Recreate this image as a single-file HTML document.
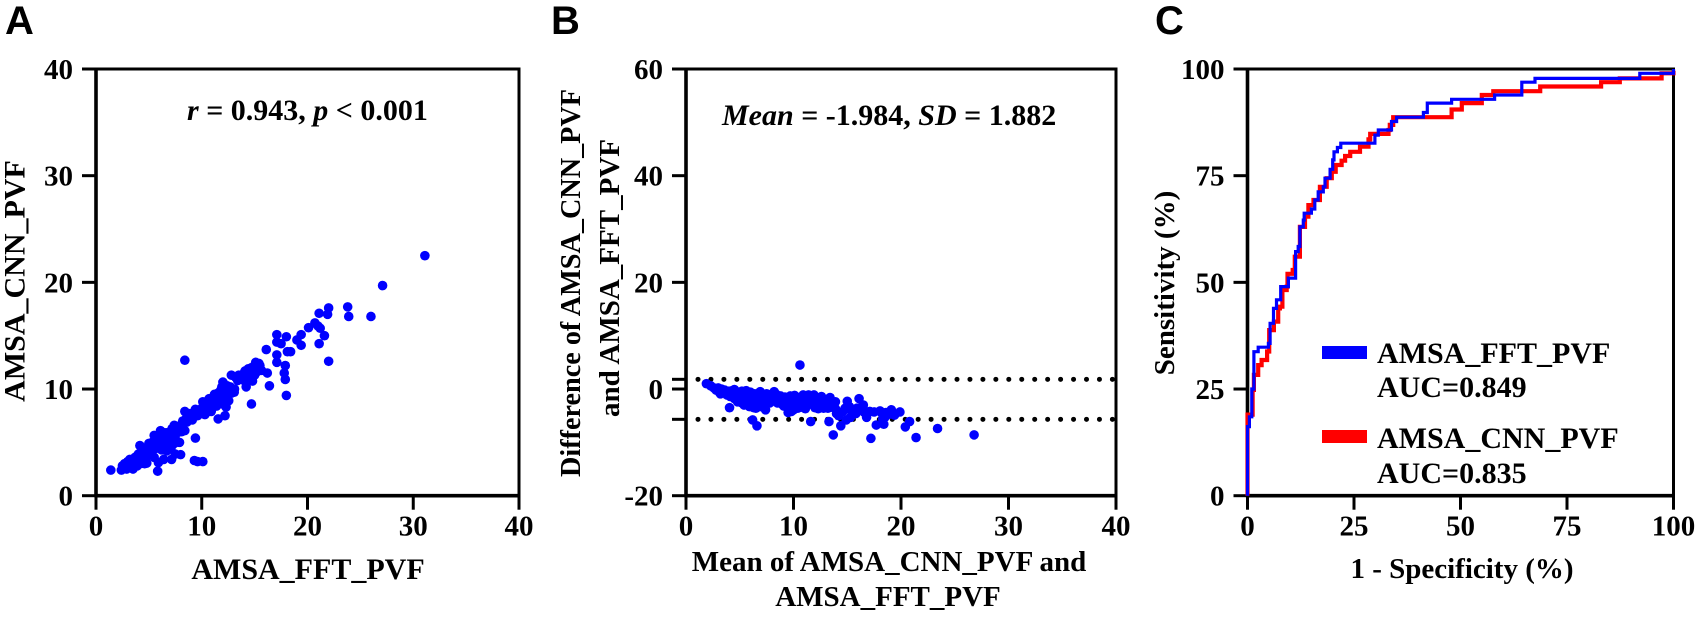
<!DOCTYPE html>
<html>
<head>
<meta charset="utf-8">
<title>AMSA PVF comparison</title>
<style>
html,body{margin:0;padding:0;background:#fff;width:1699px;height:617px;overflow:hidden}
svg{display:block}
text{font-family:"Liberation Serif",serif;font-weight:bold;fill:#000;font-size:29px}
.big{font-size:30px}
.panel{font-family:"Liberation Sans",sans-serif;font-size:40px}
</style>
</head>
<body>
<svg id="fig" width="1699" height="617" viewBox="0 0 1699 617" xmlns="http://www.w3.org/2000/svg">
<text class="panel" x="5" y="34">A</text>
<text class="panel" x="551" y="34">B</text>
<text class="panel" x="1155" y="34">C</text>

<text class="big" x="187" y="120"><tspan font-style="italic">r</tspan> = 0.943, <tspan font-style="italic">p</tspan> &lt; 0.001</text>
<text class="big" x="308" y="579" text-anchor="middle">AMSA_FFT_PVF</text>
<text class="big" transform="translate(24.5,281) rotate(-90)" text-anchor="middle">AMSA_CNN_PVF</text>

<text class="big" x="722" y="125"><tspan font-style="italic">Mean</tspan> = -1.984, <tspan font-style="italic">SD</tspan> = 1.882</text>
<text x="889" y="571" text-anchor="middle">Mean of AMSA_CNN_PVF and</text>
<text x="888" y="606" text-anchor="middle">AMSA_FFT_PVF</text>
<text transform="translate(580,477) rotate(-90)" textLength="388" lengthAdjust="spacingAndGlyphs">Difference of AMSA_CNN_PVF</text>
<text transform="translate(619,417) rotate(-90)">and AMSA_FFT_PVF</text>

<text x="1462" y="578" text-anchor="middle">1 - Specificity (%)</text>
<text transform="translate(1174,283) rotate(-90)" text-anchor="middle">Sensitivity (%)</text>

<g id="gA"></g>
<g id="gB"></g>
<g id="gC"></g>

<rect x="1322" y="346" width="45" height="13" fill="#0000ff"/>
<text class="big" x="1377" y="363">AMSA_FFT_PVF</text>
<text class="big" x="1377" y="397">AUC=0.849</text>
<rect x="1322" y="430" width="45" height="13" fill="#ff0000"/>
<text class="big" x="1377" y="448">AMSA_CNN_PVF</text>
<text class="big" x="1377" y="483">AUC=0.835</text>
</svg>
<script>
const ticksA = [0, 10, 20, 30, 40];
const xTicksB = [0, 10, 20, 30, 40];
const yTicksB = [-20, 0, 20, 40, 60];
const ticksC = [0, 25, 50, 75, 100];
const limitsB = [1.82, -5.68];

const scatterA = [
[1.4,2.4],[2.4,2.4],[2.5,2.8],[2.7,3.0],[2.9,2.5],[3.0,3.2],[3.1,2.7],[3.2,3.4],[3.4,2.9],[3.5,2.5],
[3.6,3.1],[3.7,3.6],[3.8,3.3],[3.9,2.8],[4.0,3.9],[4.1,3.4],[4.2,3.0],[4.3,4.0],[4.4,3.6],[4.5,3.2],
[4.15,4.7],[4.6,4.1],[4.7,3.5],[4.8,4.5],[4.9,3.9],[4.8,3.05],[5.1,4.6],[5.2,4.1],[5.3,5.0],[5.4,4.4],
[5.5,3.6],[5.6,5.2],[5.7,4.7],[5.83,2.3],[5.9,3.1],[5.5,5.65],[6.0,5.5],[6.1,4.9],[6.2,4.3],[6.1,6.1],
[6.4,5.4],[6.5,4.8],[6.4,3.4],[6.7,5.9],[6.8,5.2],[6.9,4.5],[7.15,3.4],[7.2,6.3],[7.3,5.6],[7.4,4.9],
[7.5,3.9],[7.4,6.6],[7.7,5.9],[7.9,5.0],[8.0,3.85],[8.1,6.0],[8.2,6.6],[8.4,6.1],[8.5,7.2],[8.4,7.9],
[8.7,7.5],[8.9,7.7],[9.1,7.1],[9.4,5.4],[9.3,3.3],[10.1,3.2],[9.6,3.2],[9.4,8.1],[9.6,7.5],[9.8,7.8],
[10.0,8.2],[10.1,8.8],[10.3,7.6],[10.5,8.3],[10.7,9.1],[10.9,7.9],[11.0,8.6],[11.2,9.5],[11.4,8.4],[11.55,7.2],
[11.6,9.0],[11.8,9.9],[12.0,8.6],[12.2,7.5],[12.3,9.2],[12.4,10.3],[12.0,10.65],[12.8,9.6],[12.55,8.9],[13.1,10.0],
[13.07,9.7],[12.8,11.3],[13.7,11.2],[14.0,10.8],[14.2,10.2],[14.4,11.9],[14.6,11.0],[14.7,8.6],[14.9,12.0],[14.8,10.75],
[15.2,11.6],[15.4,12.4],[15.1,12.5],[15.5,12.2],[15.65,11.75],[16.2,11.5],[16.4,10.3],[16.1,13.7],[17.1,15.1],[17.5,14.25],
[17.1,14.4],[17.1,13.2],[17.1,12.5],[17.9,12.2],[17.8,11.5],[17.9,10.9],[18.0,9.4],[18.0,14.9],[18.4,13.5],[18.1,13.5],
[19.0,14.6],[19.4,15.1],[19.4,14.1],[20.1,15.75],[20.7,16.2],[21.2,15.7],[21.0,15.9],[21.6,15.0],[21.1,14.25],[21.1,17.1],
[21.9,17.0],[22.0,17.6],[22.0,12.6],[23.8,17.7],[23.9,16.8],[26.0,16.8],[27.1,19.7],[31.1,22.5],[8.4,12.7],
[3.0,2.9],[3.3,3.1],[4.0,3.5],[4.4,4.1],[4.9,4.4],[5.0,4.9],[5.4,4.9],[5.8,5.0],[6.0,5.1],[6.3,5.7],
[6.6,5.5],[7.0,5.9],[7.1,6.1],[7.6,6.2],[8.0,6.3],[8.8,7.1],[9.2,7.5],[10.4,8.7],[10.9,8.9],[11.3,9.1],
[11.9,9.5],[12.1,9.9],[13.4,10.8],[14.0,11.5],[14.5,11.6],[15.0,11.3],[6.7,4.2],[7.1,4.5],[7.5,5.3],[4.6,3.0],
[3.3,2.6],[3.6,3.5],[4.1,3.8],[4.6,3.6],[5.0,4.2],[5.3,4.6],[5.6,4.4],[5.9,5.6],[6.2,5.8],[6.5,5.9],
[6.9,5.6],[7.3,5.1],[7.7,6.5],[8.2,7.0],[8.6,6.9],[9.0,7.4],[9.5,7.9],[10.0,7.7],[10.2,8.4],[10.7,8.0],
[11.1,9.1],[11.5,9.6],[11.9,10.2],[12.3,8.3],[12.7,10.2],[13.2,11.1],[13.5,11.3],[14.1,11.7],[14.7,12.0],[15.0,12.2]
];

const scatterB = [
[10.6,4.5],[1.9,1.0],[15.0,-2.3],[16.1,-1.8],[16.5,-3.0],[7.4,-3.9],[4.05,-3.5],[6.2,-5.8],[6.6,-6.9],[11.6,-6.1],
[13.3,-6.1],[13.7,-8.6],[14.4,-6.9],[14.9,-5.8],[15.3,-5.3],[17.2,-9.25],[17.7,-6.75],[18.4,-6.6],[18.5,-5.3],[19.1,-3.9],
[19.9,-4.3],[19.4,-4.9],[20.8,-6.1],[20.4,-7.1],[21.4,-9.1],[23.4,-7.4],[26.8,-8.6],[16.8,-5.3],[17.1,-4.2],[18.05,-4.1],
[15.9,-3.6],[14.6,-4.2],[14.0,-4.6],[15.5,-4.8],[16.0,-4.0],[18.2,-4.5],[18.6,-4.4],[18.3,-5.6],
[2.3,0.6],[2.6,0.2],[2.8,-0.2],[3.0,0.2],[3.1,-0.6],[3.3,0.0],[3.5,-0.7],[3.6,-0.2],[3.8,-1.1],[4.0,-0.4],
[4.1,-1.4],[4.3,-0.3],[4.5,-0.1],[4.5,-1.8],[4.6,-0.9],[4.8,-2.4],[4.9,-0.6],[5.0,-1.4],[5.2,-0.4],[5.3,-2.0],
[5.4,-3.0],[5.5,-1.1],[5.6,-0.3],[5.7,-2.4],[5.8,-1.6],[5.9,-3.3],[6.0,-0.6],[6.1,-1.2],[6.2,-2.0],[6.3,-3.5],
[6.4,-0.9],[6.5,-2.6],[6.6,-1.5],[6.7,-3.0],[6.9,-0.5],[7.0,-2.0],[7.1,-1.1],[7.3,-2.7],[7.5,-0.9],[7.7,-1.8],
[8.0,-1.3],[8.2,-0.5],[8.4,-1.0],[8.6,-1.8],[8.8,-1.3],[9.0,-2.1],[9.2,-1.5],[9.4,-2.6],[9.5,-4.4],[9.7,-1.3],
[9.9,-2.3],[10.0,-3.9],[10.1,-1.2],[10.3,-2.8],[10.5,-1.6],[10.7,-3.4],[10.9,-1.1],[11.0,-2.2],[11.2,-3.2],[11.4,-1.1],
[11.6,-2.0],[11.9,-1.1],[12.0,-3.5],[12.2,-2.0],[12.4,-3.0],[12.6,-1.4],[12.8,-3.6],[13.0,-2.0],[13.2,-3.6],[13.4,-1.6],
[13.6,-2.7],[13.9,-2.4],[13.9,-3.7],[3.2,-0.9],[4.2,-1.0],[4.7,-1.6],[5.1,-2.5],[5.6,-2.0],[6.0,-2.6],[6.8,-2.4],
[7.2,-1.6],[8.3,-1.5],[9.3,-1.8],[10.2,-2.0],[10.8,-2.6],[11.5,-2.8],[12.5,-2.4],[13.1,-2.6],
[7.8,-2.6],[8.1,-2.2],[8.5,-2.6],[8.9,-2.8],[9.1,-3.2],[9.6,-3.4],[9.8,-4.2],[10.4,-3.6],[11.1,-3.7],[11.8,-2.6],
[12.3,-3.7],[12.7,-2.8],[13.5,-3.4],[5.0,-2.0],[5.5,-2.8],[6.1,-3.0],[6.5,-3.6],[6.9,-3.3],[7.0,-1.4],[7.6,-1.3],
[14.8,-3.6],[15.2,-3.3],[15.4,-4.2],[15.8,-4.6],[16.3,-3.4],[16.6,-4.4],[17.5,-4.3],[14.2,-5.0],[19.0,-4.7],[7.4,-2.2]
];

const rocFft = [
[0,0],[0,16.2],[0.45,16.2],[0.45,18.5],[1,18.5],[1,25],[1.5,25],[1.5,33.75],[2.5,33.75],[2.5,34.8],[4.9,34.8],[4.9,35.7],[5.3,40.4],[6.1,43.9],[6.8,45.9],[7.8,45.9],[7.8,49],[9.3,49],[9.6,51],[11.3,51],[11.3,57.2],[11.9,58.4],[12.3,63],[13.1,64.6],[13.3,66.2],[15,67.2],[15.8,69.3],[16.6,71.2],[17.8,72.4],[18.2,74.4],[19.4,74.4],[19.4,76.5],[20,78.7],[20.3,80.6],[21.1,81.6],[21.9,82.6],[29.9,82.6],[29.9,84.5],[30.7,85.7],[33.8,85.7],[33.8,87.7],[35,88.7],[40.9,88.7],[41.3,89.8],[42.2,92],[47.9,92],[47.9,92.9],[58,92.9],[58,93.9],[63.6,93.9],[64.4,96.9],[67.5,96.9],[67.5,97.8],[92.1,97.8],[92.1,99],[100,99],[100,100]
];
const rocCnn = [
[0,0],[0,19],[0.7,19],[1.2,24.8],[1.5,28.3],[2.5,30.6],[3.3,31.8],[4.6,33.8],[5.1,38.8],[6.2,40.8],[7.2,43.9],[7.6,44.3],[8.2,48.2],[9.2,49],[9.4,52],[10.6,52.9],[11.1,56],[12.3,58.4],[12.3,63],[13.5,65.4],[14.3,68.1],[15.5,69.3],[17,72.4],[18.6,74.4],[19.8,75.9],[20.7,77.5],[22.1,78.5],[22.9,79.6],[24.1,80.6],[26.4,81.8],[28.4,83.5],[28.8,84.8],[33.1,85.7],[33.4,86.9],[34.2,88.7],[47.9,88.7],[47.9,90.5],[50.3,90.5],[50.3,92],[55,92.9],[55,93.9],[57.7,93.9],[57.7,94.8],[68.7,94.8],[68.7,95.9],[83,95.9],[83,96.9],[87.4,96.9],[87.4,97.8],[97.2,97.8],[97.2,99],[100,99.6]
];

const NS = 'http://www.w3.org/2000/svg';
function el(parent, tag, attrs) {
  const e = document.createElementNS(NS, tag);
  for (const k in attrs) e.setAttribute(k, attrs[k]);
  parent.appendChild(e);
  return e;
}
function linScale(d0, d1, p0, p1) { return v => p0 + (v - d0) * (p1 - p0) / (d1 - d0); }

function frame(g, L, R, T, B, xT, yT, xS, yS, prefix) {
  const lines = [[L, T - 1.5, L, B + 1.5, 3.6, 'y-axis-line'], [L - 1.5, B, R + 1.5, B, 3.6, 'x-axis-line'], [L, T, R + 1.5, T, 3, 'top-frame-line'], [R, T, R, B, 3, 'right-frame-line']];
  lines.forEach(a => {
    const l = el(g, 'line', {x1: a[0], y1: a[1], x2: a[2], y2: a[3], stroke: '#000', 'stroke-width': a[4]});
    
    
  });
  xT.forEach(v => {
    const t = el(g, 'line', {x1: xS(v), y1: B, x2: xS(v), y2: B + 14, stroke: '#000', 'stroke-width': 3});
    
    
    const lb = el(g, 'text', {x: xS(v), y: B + 40, 'text-anchor': 'middle'});
    lb.textContent = v;
    
    
  });
  yT.forEach(v => {
    const t = el(g, 'line', {x1: L - 14, y1: yS(v), x2: L, y2: yS(v), stroke: '#000', 'stroke-width': 3});
    
    
    const lb = el(g, 'text', {x: L - 23, y: yS(v) + 10, 'text-anchor': 'end'});
    lb.textContent = v;
    
    
  });
}

function dots(g, pts, xS, yS, name) {
  pts.forEach(p => {
    const c = el(g, 'circle', {cx: xS(p[0]), cy: yS(p[1]), r: 4.8, fill: '#0000ff'});
    
    
  });
}

/* Panel A */
const gA = document.getElementById('gA');
const xA = linScale(0, 40, 96, 519);
const yA = linScale(0, 40, 495.7, 69);
frame(gA, 96, 519, 69, 495.7, ticksA, ticksA, xA, yA, 'scatter');
dots(gA, scatterA, xA, yA, 'scatter-point');

/* Panel B */
const gB = document.getElementById('gB');
const xB = linScale(0, 40, 686, 1116);
const yB = linScale(-20, 60, 495.7, 69);
frame(gB, 686, 1116, 69, 495.7, xTicksB, yTicksB, xB, yB, 'bland-altman');
limitsB.forEach(v => {
  const t = el(gB, 'line', {x1: 672, y1: yB(v), x2: 686, y2: yB(v), stroke: '#000', 'stroke-width': 3});
  
  
  const d = el(gB, 'line', {x1: 698, y1: yB(v), x2: 1113, y2: yB(v), stroke: '#000', 'stroke-width': 5, 'stroke-linecap': 'round', 'stroke-dasharray': '0 12.95'});
  
  
});
dots(gB, scatterB, xB, yB, 'difference-point');

/* Panel C */
const gC = document.getElementById('gC');
const xC = linScale(0, 100, 1247.5, 1673.5);
const yC = linScale(0, 100, 495.7, 69);
frame(gC, 1247.5, 1673.5, 69, 495.7, ticksC, ticksC, xC, yC, 'roc');
function roc(pts, color, w, name) {
  let d = '';
  pts.forEach((p, i) => {
    if (i === 0) { d += 'M' + xC(p[0]).toFixed(1) + ' ' + yC(p[1]).toFixed(1); }
    else { d += 'H' + xC(p[0]).toFixed(1) + 'V' + yC(p[1]).toFixed(1); }
  });
  const l = el(gC, 'path', {d: d, fill: 'none', stroke: color, 'stroke-width': w});
  
  
}
roc(rocCnn, '#ff0000', 4.2, 'roc-curve-cnn');
roc(rocFft, '#0000ff', 3.2, 'roc-curve-fft');
</script>
</body>
</html>
